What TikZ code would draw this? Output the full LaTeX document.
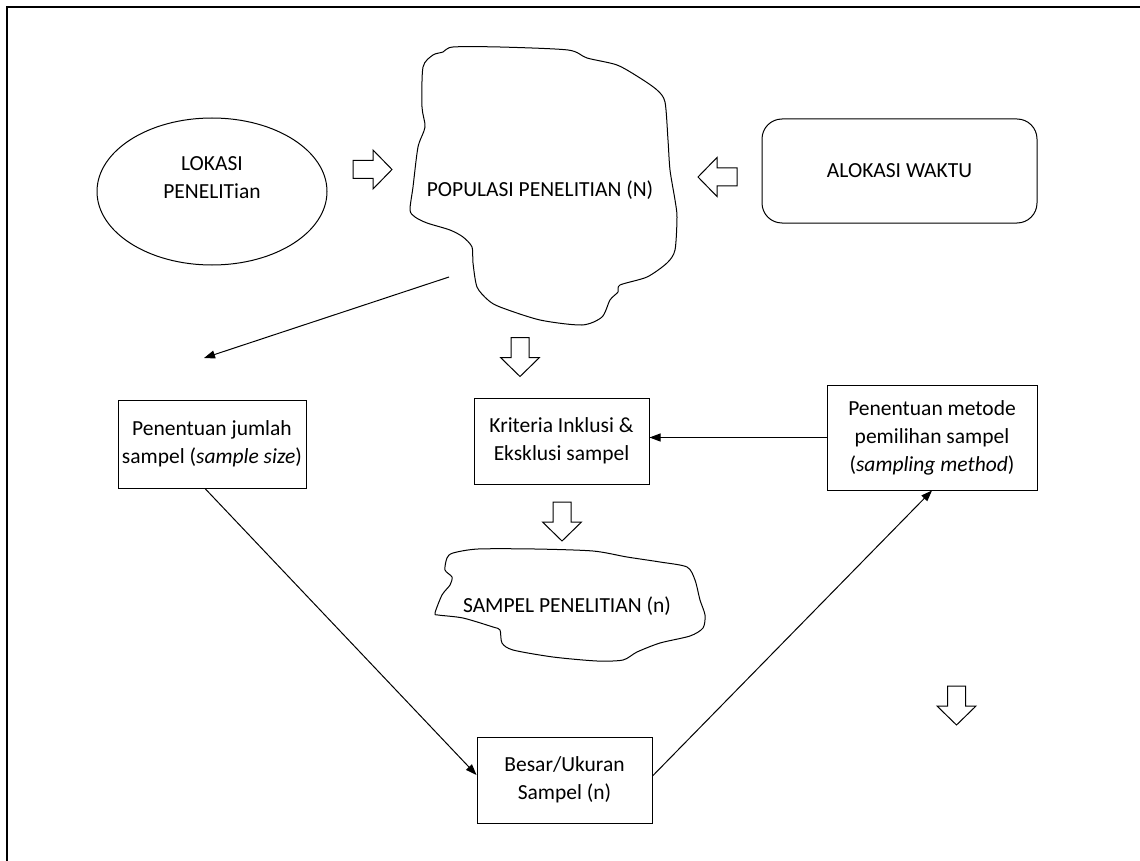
\documentclass[tikz,border=0pt]{standalone}
\usepackage{fontspec}
\setmainfont{Carlito}
\usetikzlibrary{arrows.meta,shapes.geometric}

\tikzset{
  txt/.style={font=\fontsize{21.5}{28}\selectfont, align=center, inner sep=0pt},
  boxnode/.style={draw, line width=1pt, rectangle, inner sep=0pt, txt},
  link/.style={line width=1pt, -{Triangle[length=11pt,width=8pt]}},
  outline/.style={line width=1pt, line join=round},
  pics/blockarrow/.style={code={
    \draw[line width=1pt, line join=miter, fill=white]
      (-19.5,-9) -- (0.5,-9) -- (0.5,-19.5) -- (19.5,0) -- (0.5,19.5) -- (0.5,9) -- (-19.5,9) -- cycle;
  }},
}

\begin{document}
\begin{tikzpicture}[x=1pt, y=-1pt]
\useasboundingbox (0,0) rectangle (1140,861);

% frame
\draw[line width=2pt] (7,861) -- (7,7) -- (1140,7);

% location (ellipse)
\node[ellipse, draw, line width=1pt, minimum width=230pt, minimum height=147pt, inner sep=0pt] (lokasi) at (212,191.5) {};
\node[txt] (lokasitext) at (212,178) {LOKASI\\PENELITian};

% time allocation (rounded box)
\node[boxnode, rounded corners=20pt, minimum width=275pt, minimum height=104pt] (waktu) at (899.5,171) {ALOKASI WAKTU};

% population (irregular outline)
\draw[outline] plot[smooth cycle, tension=0.45] coordinates {
  (453,47) (500,47) (568,50) (587,58) (617,65) (640,78) (657,90) (665,102)
  (668,140) (670,170) (675,200) (677,217) (675,250) (667,263) (647,277)
  (620,285) (618,292) (610,300) (602,317) (582,325) (540,320) (500,307)
  (488,300) (477,287) (473,263) (472,247) (463,237) (450,230) (427,223)
  (415,217) (410,210) (413,187) (418,147) (425,127) (422,107) (423,67)
  (433,55) (443,52)};
\node[txt] (populasi) at (540,190) {POPULASI PENELITIAN (N)};

% sample (irregular outline)
\draw[outline] plot[smooth cycle, tension=0.45] coordinates {
  (447,558) (453,553) (478,549) (535,549) (593,551) (627,557) (660,562)
  (687,567) (695,580) (700,600) (705,615) (703,628) (690,636) (660,643)
  (637,652) (623,660) (597,661) (553,657) (513,650) (502,643) (500,630)
  (493,627) (463,618) (438,615) (435,613) (442,595) (450,585) (452,577)
  (445,570)};
\node[txt] (sampel) at (567,606) {SAMPEL PENELITIAN (n)};

% boxes
\node[boxnode, minimum width=188pt, minimum height=88pt] (jumlah) at (212,444)
  {Penentuan jumlah\\sampel (\textit{sample size})};
\node[boxnode, minimum width=175pt, minimum height=86pt] (kriteria) at (561.5,441)
  {Kriteria Inklusi \&\\Eksklusi sampel};
\node[boxnode, minimum width=210pt, minimum height=105pt] (metode) at (932,437.5)
  {Penentuan metode\\pemilihan sampel\\(\textit{sampling method})};
\node[boxnode, minimum width=175pt, minimum height=86pt] (besar) at (564.5,780)
  {Besar/Ukuran\\Sampel (n)};

% block arrows
\pic at (372.5,169.5) {blockarrow};
\pic[rotate=180] at (717.5,177) {blockarrow};
\pic[rotate=-90] at (520,357) {blockarrow};
\pic[rotate=-90] at (562,521.5) {blockarrow};
\pic[rotate=-90] at (956.5,705.5) {blockarrow};

% connectors
\coordinate (popfoot) at (449,277);
\coordinate (jumlahtop) at (204,358);
\draw[link] (popfoot) -- (jumlahtop);
\draw[link] (metode.west) -- (kriteria.east |- metode.west);
\draw[link] ([xshift=-7pt]jumlah.south) -- ([yshift=5pt]besar.west);
\draw[link] ([yshift=4pt]besar.east) -- (metode.south);
\end{tikzpicture}
\end{document}
